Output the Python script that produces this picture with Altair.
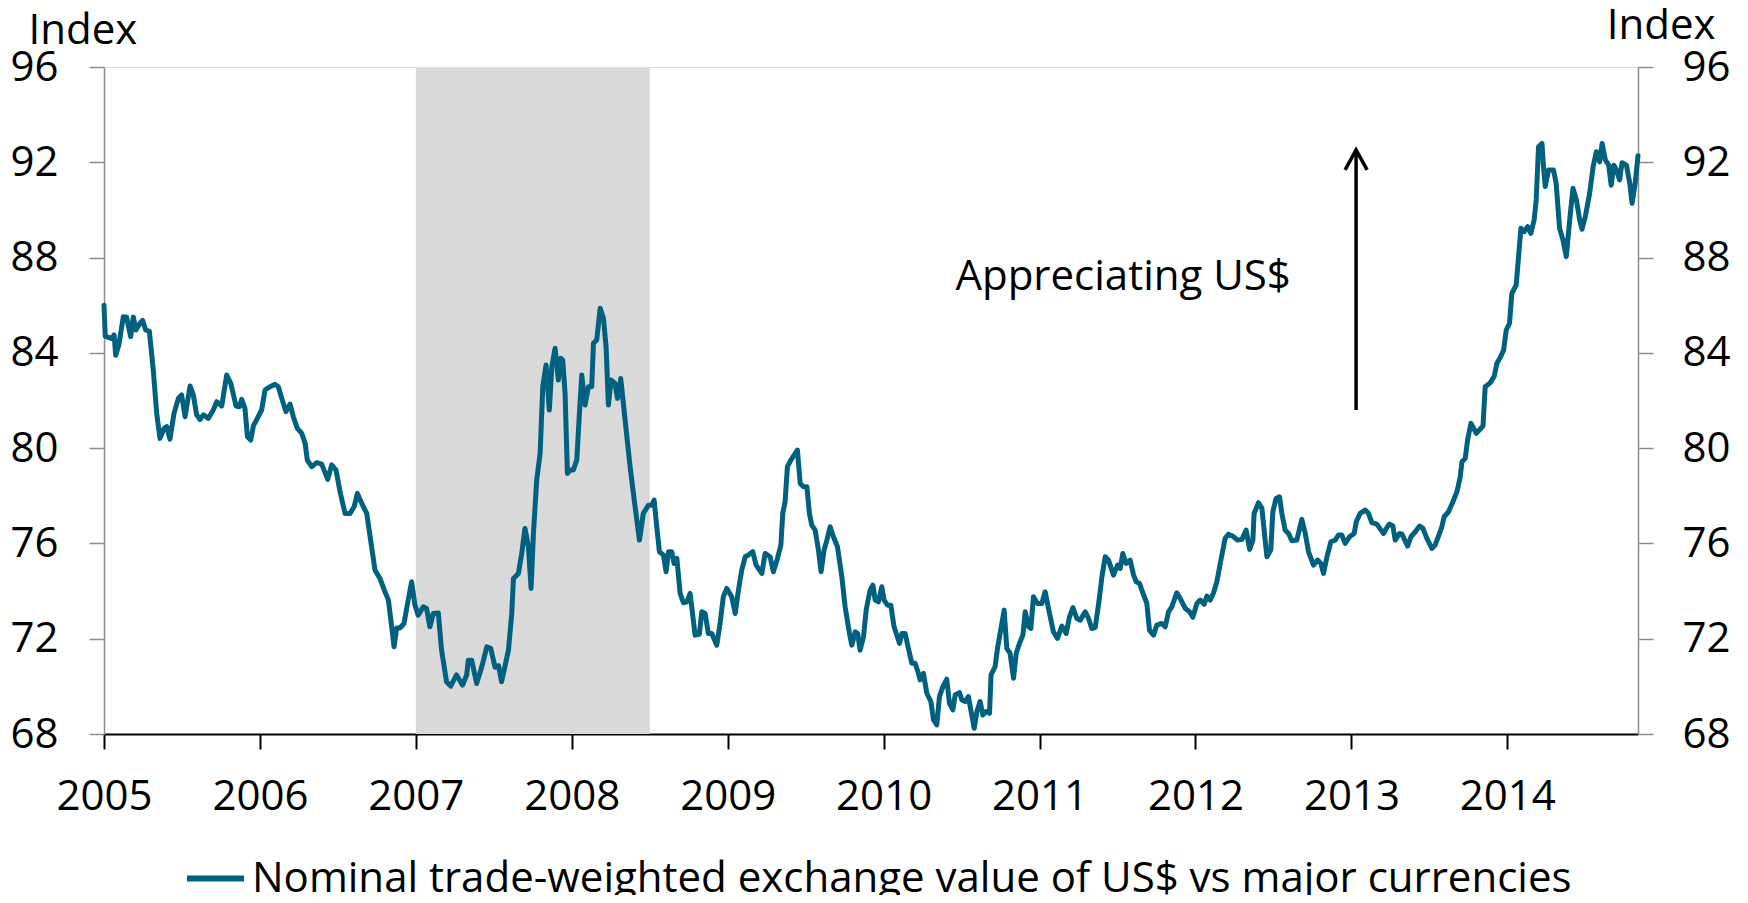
import altair as alt
import pandas as pd

# ---- data ----
years = [
2005.000,2005.008,2005.050,2005.065,2005.075,2005.095,2005.124,2005.145,2005.171,2005.188,
2005.205,2005.231,2005.248,2005.267,2005.291,2005.316,2005.338,2005.359,2005.385,2005.402,
2005.423,2005.449,2005.477,2005.498,2005.520,2005.552,2005.573,2005.594,2005.616,2005.637,
2005.669,2005.701,2005.723,2005.755,2005.787,2005.813,2005.847,2005.868,2005.883,2005.904,
2005.920,2005.941,2005.958,2005.979,2006.011,2006.033,2006.065,2006.097,2006.118,2006.140,
2006.167,2006.193,2006.214,2006.240,2006.268,2006.290,2006.304,2006.332,2006.364,2006.396,
2006.435,2006.460,2006.488,2006.514,2006.546,2006.578,2006.604,2006.625,2006.653,2006.685,
2006.710,2006.738,2006.770,2006.802,2006.824,2006.845,2006.860,2006.877,2006.898,2006.924,
2006.945,2006.973,2006.994,2007.015,2007.048,2007.069,2007.090,2007.112,2007.144,2007.165,
2007.197,2007.223,2007.261,2007.300,2007.326,2007.336,2007.358,2007.390,2007.422,2007.455,
2007.480,2007.508,2007.530,2007.550,
2007.594,2007.615,2007.626,2007.658,2007.679,2007.700,2007.722,2007.739,2007.754,2007.775,
2007.797,2007.814,2007.835,2007.856,2007.872,2007.893,2007.914,2007.930,2007.942,2007.957,
2007.972,2007.989,2008.010,2008.032,2008.049,2008.064,2008.085,2008.107,2008.128,2008.139,
2008.160,2008.182,2008.203,2008.220,2008.235,2008.252,2008.277,2008.293,2008.314,2008.342,
2008.374,2008.406,2008.434,2008.459,2008.491,2008.513,2008.528,2008.545,2008.562,2008.588,
2008.605,2008.620,2008.641,2008.656,2008.674,2008.695,2008.716,2008.738,2008.759,2008.791,
2008.818,2008.834,2008.855,2008.876,2008.898,2008.930,2008.951,2008.972,2008.994,2009.026,
2009.048,2009.069,2009.090,2009.112,2009.133,2009.161,2009.182,2009.219,2009.240,2009.272,
2009.293,2009.319,2009.341,2009.353,2009.368,2009.383,2009.405,2009.447,2009.465,2009.486,
2009.508,2009.524,2009.539,2009.561,2009.582,2009.599,2009.618,2009.636,2009.657,2009.678,
2009.704,2009.732,2009.753,2009.781,2009.796,2009.818,2009.834,2009.849,2009.871,2009.888,
2009.913,2009.931,2009.946,2009.967,2009.988,2010.003,2010.025,2010.046,2010.067,2010.102,
2010.117,
2010.138,2010.159,2010.181,2010.202,2010.223,2010.234,2010.255,2010.277,2010.303,2010.320,
2010.341,2010.358,2010.380,2010.405,2010.422,2010.444,2010.459,2010.486,2010.502,2010.523,
2010.544,2010.559,2010.581,2010.598,2010.619,2010.636,2010.657,2010.679,2010.689,2010.715,
2010.730,2010.747,2010.773,2010.790,2010.811,2010.833,2010.850,2010.871,2010.893,2010.908,
2010.929,2010.944,2010.961,2010.987,2011.015,2011.036,2011.064,2011.089,2011.115,2011.143,
2011.171,2011.192,2011.214,2011.239,2011.261,2011.293,2011.314,2011.335,2011.357,2011.382,
2011.400,2011.421,2011.442,2011.474,2011.500,2011.517,2011.534,2011.555,2011.581,2011.603,
2011.620,2011.641,2011.656,2011.688,2011.705,2011.731,2011.752,2011.784,2011.806,2011.827,
2011.848,2011.880,2011.902,2011.934,2011.962,2011.983,2012.009,2012.030,2012.056,2012.073,
2012.094,2012.116,2012.137,2012.163,2012.190,2012.212,2012.240,2012.270,2012.298,2012.325,
2012.347,2012.368,2012.376,2012.404,2012.426,2012.458,2012.483,2012.496,2012.517,2012.539,
2012.554,2012.575,2012.597,2012.618,2012.650,2012.682,
2012.704,2012.725,2012.757,2012.783,2012.804,2012.821,2012.843,2012.868,2012.896,2012.917,
2012.939,2012.960,2012.988,2013.018,2013.031,2013.056,2013.088,2013.110,2013.131,2013.163,
2013.206,2013.231,2013.244,2013.266,2013.281,2013.309,2013.324,2013.360,2013.382,2013.410,
2013.437,2013.459,2013.484,2013.516,2013.537,2013.565,2013.580,2013.595,2013.623,2013.651,
2013.677,2013.698,2013.709,2013.730,2013.745,2013.767,2013.801,2013.844,2013.858,2013.890,
2013.916,2013.933,2013.954,2013.976,2013.993,2014.014,2014.029,2014.057,2014.072,2014.087,
2014.108,2014.130,2014.151,2014.172,2014.185,2014.200,2014.222,2014.232,2014.243,2014.264,
2014.296,2014.313,2014.335,2014.357,2014.378,2014.400,2014.421,2014.443,2014.464,2014.479,
2014.500,2014.528,2014.550,2014.571,2014.592,2014.608,2014.629,2014.650,2014.666,2014.683,
2014.700,2014.720,2014.736,2014.764,2014.785,2014.800,2014.820,2014.838,
]
values = [
86.00,84.70,84.60,84.75,83.90,84.33,85.52,85.50,84.68,85.50,
84.96,85.24,85.36,84.96,84.90,83.28,81.46,80.41,80.83,80.90,
80.38,81.46,82.09,82.23,81.32,82.61,82.23,81.40,81.20,81.40,
81.25,81.60,81.95,81.77,83.07,82.72,81.77,81.74,82.05,81.67,
80.48,80.34,80.93,81.20,81.60,82.44,82.58,82.68,82.58,82.09,
81.53,81.85,81.32,80.83,80.62,80.20,79.50,79.22,79.39,79.33,
78.69,79.30,79.08,78.17,77.26,77.26,77.54,78.10,77.68,77.26,
76.14,74.88,74.53,73.97,73.62,72.50,71.66,72.45,72.45,72.64,
73.41,74.39,73.41,72.99,73.34,73.27,72.50,73.06,73.08,71.52,
70.19,70.01,70.48,70.05,70.48,71.10,71.10,70.12,70.80,71.66,
71.60,70.80,70.87,70.19,
71.52,73.06,74.53,74.74,75.58,76.63,75.86,74.11,76.40,78.66,
79.78,82.58,83.49,81.60,83.42,84.19,82.86,83.77,83.70,82.30,
78.94,79.08,79.08,79.50,81.46,83.07,81.81,82.58,82.58,84.40,
84.54,85.87,85.45,84.26,81.81,82.86,82.72,82.09,82.92,81.18,
79.22,77.54,76.14,77.26,77.60,77.60,77.82,76.70,75.65,75.51,
74.81,75.65,75.65,75.16,75.37,73.90,73.51,73.55,73.90,72.15,
72.19,73.13,73.06,72.22,72.22,71.73,72.64,73.76,74.11,73.76,
73.06,74.04,74.88,75.44,75.51,75.65,75.09,74.74,75.58,75.44,
74.81,75.37,75.93,77.26,77.75,79.22,79.50,79.92,78.52,78.38,
78.38,77.26,76.77,76.56,75.72,74.81,75.72,76.14,76.70,76.28,
75.86,74.60,73.34,72.22,71.73,72.29,72.22,71.52,72.08,73.20,
74.04,74.25,73.62,73.55,74.18,73.62,73.41,73.41,72.50,71.80,
72.22,
72.22,71.59,70.97,70.97,70.55,70.27,70.55,69.71,69.36,68.59,
68.38,69.57,69.99,70.30,69.29,69.01,69.64,69.74,69.43,69.36,
69.57,69.01,68.24,68.94,69.36,68.80,68.94,68.87,70.48,70.83,
71.59,72.22,73.20,71.59,71.38,70.34,71.38,71.80,72.15,73.13,
72.50,72.43,73.76,73.48,73.48,73.97,73.06,72.29,72.01,72.53,
72.22,72.92,73.31,72.85,72.78,73.13,72.85,72.43,72.47,73.62,
74.60,75.44,75.30,74.67,75.09,74.95,75.58,75.16,75.30,74.67,
74.39,74.32,74.04,73.48,72.36,72.15,72.57,72.64,72.50,73.13,
73.34,73.93,73.69,73.27,73.13,72.90,73.48,73.62,73.45,73.79,
73.62,73.93,74.39,75.30,76.21,76.39,76.30,76.14,76.17,76.56,
75.75,76.14,77.26,77.71,77.47,75.44,75.72,77.33,77.89,77.96,
77.26,76.56,76.42,76.11,76.14,77.01,
76.42,75.65,75.09,75.30,75.16,74.74,75.44,76.07,76.14,76.35,
76.35,76.00,76.28,76.42,76.91,77.26,77.40,77.26,76.87,76.81,
76.42,76.70,76.81,76.73,76.14,76.42,76.39,75.89,76.28,76.49,
76.73,76.63,76.21,75.79,75.93,76.42,76.70,77.12,77.33,77.75,
78.17,78.80,79.43,79.57,80.34,81.04,80.62,80.93,82.58,82.74,
83.02,83.55,83.80,84.11,84.96,85.24,86.50,86.85,88.04,89.23,
89.09,89.30,89.02,89.58,90.42,92.65,92.79,91.81,90.98,91.68,
91.68,91.12,89.23,88.74,88.04,89.58,90.91,90.42,89.58,89.19,
89.72,90.70,91.81,92.44,92.02,92.79,92.09,91.88,91.04,91.88,
91.68,91.26,91.98,91.88,91.12,90.28,91.12,92.27,
]
series_name = "Nominal trade-weighted exchange value of US$ vs major currencies"

x_domain = [2005.0, 2014.838]
y_domain = [68, 96]
x_ticks = [2005, 2006, 2007, 2008, 2009, 2010, 2011, 2012, 2013, 2014]
y_ticks = [68, 72, 76, 80, 84, 88, 92, 96]

shade_start = [2007.0]
shade_end = [2008.5]

arrow_x = [2013.03]
arrow_bottom = [81.6]
arrow_top = [92.52]

note_x = [2011.536]
note_y = [86.64]
note_text = ["Appreciating US$"]

FONT = "Open Sans"
FS = 42
LINE_COLOR = "#00607F"
AXIS_GRAY = "#8C8C8C"

df = pd.DataFrame({"year": years, "value": values, "series": series_name})
shade_df = pd.DataFrame({"x0": shade_start, "x1": shade_end,
                         "y0": [y_domain[0]], "y1": [y_domain[1]]})
arrow_df = pd.DataFrame({"x": arrow_x, "y0": arrow_bottom, "y1": arrow_top})
note_df = pd.DataFrame({"x": note_x, "y": note_y, "t": note_text})

xscale = alt.Scale(domain=x_domain, nice=False, zero=False)
yscale = alt.Scale(domain=y_domain, nice=False, zero=False)

x_axis = alt.Axis(values=x_ticks, format="d", title=None, grid=False,
                  labelFlush=False, labelOverlap=False,
                  labelFont=FONT, labelFontSize=FS, labelColor="black",
                  labelPadding=27, tickSize=15, tickWidth=2, tickColor="black",
                  domainColor="black", domainWidth=2)

y_axis_common = dict(values=y_ticks, grid=False, labelFlush=False, labelOverlap=False,
                     labelFont=FONT, labelFontSize=FS, labelColor="black",
                     tickSize=15, tickWidth=1.5, tickColor=AXIS_GRAY,
                     domainColor=AXIS_GRAY, domainWidth=1.5,
                     title="Index", titleAngle=0, titleFont=FONT, titleFontSize=FS,
                     titleFontWeight="normal", titleColor="black",
                     titleBaseline="alphabetic")

left_axis = alt.Axis(orient="left", labelPadding=31, titleAlign="left",
                     titleX=-76, titleY=-24, **y_axis_common)
right_axis = alt.Axis(orient="right", labelPadding=29, titleAlign="right",
                      titleX=77, titleY=-29, **y_axis_common)


def X(field):
    return alt.X(field, type="quantitative", scale=xscale, axis=x_axis)


shade = alt.Chart(shade_df).mark_rect(color="#D9D9D9").encode(
    x=X("x0"),
    x2="x1:Q",
    y=alt.Y("y0:Q", scale=yscale, axis=left_axis),
    y2="y1:Q",
)

line = alt.Chart(df).mark_line(strokeWidth=5, strokeJoin="round", strokeCap="round").encode(
    x=X("year"),
    y=alt.Y("value:Q", scale=yscale, axis=right_axis),
    color=alt.Color("series:N", scale=alt.Scale(range=[LINE_COLOR]),
                    legend=alt.Legend(title=None, orient="none", legendX=80, legendY=780,
                                      symbolType="stroke", symbolSize=3249,
                                      symbolStrokeWidth=6, symbolStrokeColor=LINE_COLOR,
                                      labelFont=FONT, labelFontSize=FS, labelColor="black",
                                      labelLimit=3000, labelOffset=5, padding=0)),
)

shaft = alt.Chart(arrow_df).mark_rule(color="black", strokeWidth=3.5).encode(
    x=X("x"),
    y=alt.Y("y0:Q", scale=yscale, axis=None),
    y2="y1:Q",
)

head = alt.Chart(arrow_df).mark_point(
    shape="M -0.55 1 L 0 0 L 0.55 1", filled=False, size=1600,
    strokeWidth=3.5, color="black", opacity=1, strokeJoin="miter",
).encode(
    x=X("x"),
    y=alt.Y("y1:Q", scale=yscale, axis=None),
)

note = alt.Chart(note_df).mark_text(font=FONT, fontSize=FS, color="black",
                                    align="center", baseline="alphabetic").encode(
    x=X("x"),
    y=alt.Y("y:Q", scale=yscale, axis=None),
    text="t:N",
)

chart = alt.layer(shade, line, shaft, head, note).resolve_scale(
    y="independent"
).properties(
    width=1534, height=667, autosize="none",
    padding={"left": 96, "top": 59, "right": 102, "bottom": 161},
).configure_view(stroke=None).configure(font=FONT)

chart.save("out.html", embed_options={"renderer": "svg", "actions": False})
